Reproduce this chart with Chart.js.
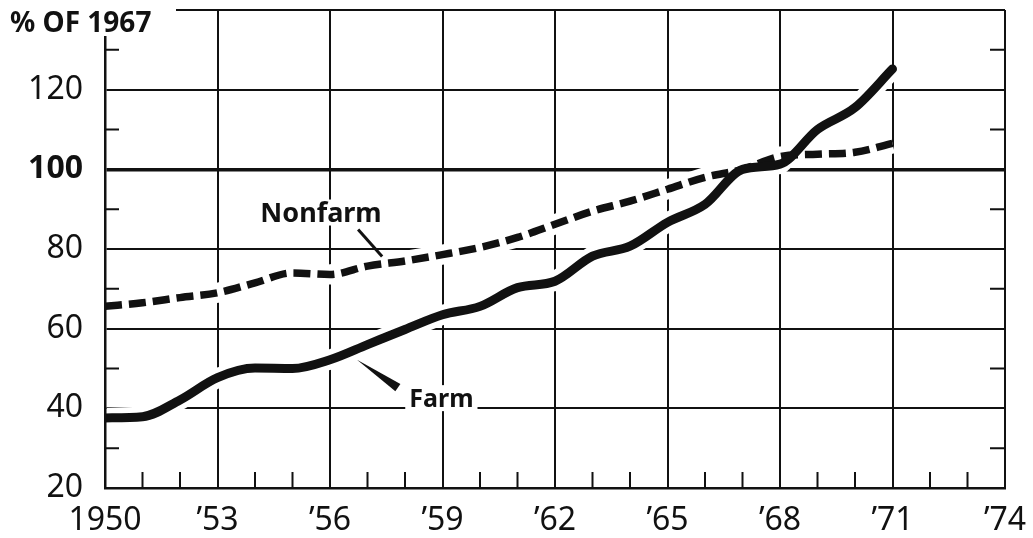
<!DOCTYPE html>
<html>
<head>
<meta charset="utf-8">
<script src="https://cdn.jsdelivr.net/npm/chart.js@4.4.1/dist/chart.umd.min.js"></script>
<style>
  html, body { margin: 0; padding: 0; background: #fff; }
  #box { width: 1033px; height: 538px; position: relative; }
</style>
</head>
<body>
<div id="box"><canvas id="grafico"></canvas></div>
<script>
// anos e indices (% de 1967)
var anos = [1950, 1951, 1952, 1953, 1954, 1955, 1956, 1957, 1958, 1959, 1960,
            1961, 1962, 1963, 1964, 1965, 1966, 1967, 1968, 1969, 1970, 1971];
var farm = [37.6, 37.9, 42.1, 47.7, 50.1, 50.0, 52.2, 56.0, 59.8, 63.5, 65.6,
            70.3, 71.9, 78.2, 80.7, 86.7, 91.2, 100.0, 101.3, 110.0, 115.5, 125.2];
var nonfarm = [65.6, 66.5, 67.8, 69.0, 71.5, 74.0, 73.6, 75.7, 77.0, 78.6, 80.4,
               82.9, 86.2, 89.5, 92.0, 95.0, 98.0, 100.0, 103.2, 103.8, 104.3, 106.5];

var anoTicks = [1950, 1953, 1956, 1959, 1962, 1965, 1968, 1971, 1974];
var valorTicks = [20, 40, 60, 80, 100, 120, 140];
var menoresY = [30, 50, 70, 90, 110, 130];

var tituloY = '% OF 1967';

var fonte = '"Noto Sans", "DejaVu Sans", sans-serif';

function pontos(serie) {
	return serie.map(function(v, i) { return { x: anos[i], y: v }; });
}

// faixa branca por baixo das linhas: a grade se interrompe perto delas
var faixaBranca = {
	id: 'faixaBranca',
	beforeDatasetsDraw: function(chart) {
		var ctx = chart.ctx, a = chart.chartArea;
		ctx.save();
		ctx.beginPath();
		ctx.rect(a.left + 2, a.top, a.right - a.left - 2, a.bottom - a.top - 2);
		ctx.clip();
		ctx.strokeStyle = '#fff';
		ctx.lineWidth = 20;
		ctx.lineJoin = 'round';
		[0, 1].forEach(function(i) {
			var pts = chart.getDatasetMeta(i).data;
			ctx.beginPath();
			pts.forEach(function(p, k) {
				if (k === 0) ctx.moveTo(p.x, p.y);
				else ctx.lineTo(p.x, p.y);
			});
			ctx.stroke();
		});
		ctx.restore();
	}
};

// risquinhos menores nas bordas
var marcasMenores = {
	id: 'marcasMenores',
	afterDatasetsDraw: function(chart) {
		var ctx = chart.ctx, a = chart.chartArea;
		var sx = chart.scales.x, sy = chart.scales.y;
		ctx.save();
		ctx.strokeStyle = '#111';
		ctx.lineWidth = 2;
		ctx.beginPath();
		menoresY.forEach(function(v) {
			var y = sy.getPixelForValue(v);
			ctx.moveTo(a.left, y); ctx.lineTo(a.left + 14, y);
			ctx.moveTo(a.right - 15, y); ctx.lineTo(a.right, y);
		});
		for (var ano = anoTicks[0]; ano <= anoTicks[anoTicks.length - 1]; ano++) {
			if (anoTicks.indexOf(ano) >= 0) continue;
			var x = sx.getPixelForValue(ano);
			ctx.moveTo(x, a.bottom); ctx.lineTo(x, a.bottom - 16);
		}
		ctx.stroke();
		ctx.restore();
	}
};

// rotulos das series e titulo do eixo
var rotulos = {
	id: 'rotulos',
	afterDatasetsDraw: function(chart) {
		var ctx = chart.ctx;
		var sx = chart.scales.x, sy = chart.scales.y;
		ctx.save();

		// canto do titulo fica sem grade
		ctx.fillStyle = '#fff';
		ctx.fillRect(0, 0, 176, 36);
		ctx.fillStyle = '#111';
		ctx.font = 'bold 28px ' + fonte;
		ctx.textAlign = 'left';
		ctx.textBaseline = 'alphabetic';
		ctx.fillText(tituloY, 10, 32);

		texto(ctx, 'Nonfarm', sx.getPixelForValue(1955.76), sy.getPixelForValue(86.9), 'bold 27px ' + fonte);
		texto(ctx, 'Farm', sx.getPixelForValue(1958.97), sy.getPixelForValue(40.3), 'bold 25px ' + fonte);

		// linha que liga Nonfarm
		ctx.strokeStyle = '#111';
		ctx.lineWidth = 3;
		ctx.beginPath();
		ctx.moveTo(sx.getPixelForValue(1956.75), sy.getPixelForValue(84.9));
		ctx.lineTo(sx.getPixelForValue(1957.39), sy.getPixelForValue(78.1));
		ctx.stroke();

		// cunha que liga Farm
		var x0 = sx.getPixelForValue(1956.72), y0 = sy.getPixelForValue(52.2);
		var x1 = sx.getPixelForValue(1957.81), y1 = sy.getPixelForValue(45.2);
		var dx = x1 - x0, dy = y1 - y0, len = Math.sqrt(dx * dx + dy * dy);
		var nx = -dy / len * 4.5, ny = dx / len * 4.5;
		ctx.beginPath();
		ctx.moveTo(x0, y0);
		ctx.lineTo(x1 + nx, y1 + ny);
		ctx.lineTo(x1 - nx, y1 - ny);
		ctx.closePath();
		ctx.fill();
		ctx.restore();
	}
};

function texto(ctx, t, x, y, f) {
	ctx.font = f;
	ctx.textAlign = 'center';
	ctx.textBaseline = 'alphabetic';
	var w = ctx.measureText(t).width;
	ctx.fillStyle = '#fff';
	ctx.fillRect(x - w / 2 - 4, y - 22, w + 8, 26);
	ctx.fillStyle = '#111';
	ctx.fillText(t, x, y);
}

var ctx = document.getElementById('grafico').getContext('2d');

new Chart(ctx, {
	type: 'line',
	data: {
		datasets: [{
			label: 'Farm',
			data: pontos(farm),
			borderColor: '#111',
			borderWidth: 9,
			borderCapStyle: 'round',
			borderJoinStyle: 'round',
			pointRadius: 0,
			cubicInterpolationMode: 'monotone',
			fill: false
		}, {
			label: 'Nonfarm',
			data: pontos(nonfarm),
			borderColor: '#111',
			borderWidth: 7.5,
			borderDash: [17, 7],
			pointRadius: 0,
			cubicInterpolationMode: 'monotone',
			fill: false
		}]
	},
	options: {
		responsive: true,
		maintainAspectRatio: false,
		animation: false,
		layout: { padding: { top: 10, right: 28, left: 0, bottom: 0 } },
		plugins: {
			legend: { display: false },
			tooltip: { enabled: false }
		},
		scales: {
			x: {
				type: 'linear',
				min: anoTicks[0],
				max: anoTicks[anoTicks.length - 1],
				afterBuildTicks: function(s) {
					s.ticks = anoTicks.map(function(v) { return { value: v }; });
				},
				afterFit: function(s) {
					s.height = 50;
					s.paddingLeft = 0;
					s.paddingRight = 0;
				},
				ticks: {
					maxRotation: 0,
					autoSkip: false,
					padding: 14,
					color: '#111',
					font: { family: fonte, size: 32 },
					callback: function(v) {
						return v === 1950 ? '1950' : '\u2019' + String(v).slice(2);
					}
				},
				grid: { color: '#111', lineWidth: 2, drawTicks: false },
				border: { display: true, color: '#111', width: 2.5 }
			},
			y: {
				min: valorTicks[0],
				max: valorTicks[valorTicks.length - 1],
				afterBuildTicks: function(s) {
					s.ticks = valorTicks.map(function(v) { return { value: v }; });
				},
				afterFit: function(s) {
					s.width = 105;
					s.paddingTop = 0;
					s.paddingBottom = 0;
				},
				ticks: {
					padding: 22,
					color: '#111',
					font: function(c) {
						return { family: fonte, size: 32, weight: c.tick && c.tick.value === 100 ? 'bold' : 'normal' };
					},
					callback: function(v) { return v === 140 ? '' : String(v); }
				},
				grid: {
					color: '#111',
					drawTicks: false,
					lineWidth: function(c) { return c.tick && c.tick.value === 100 ? 3.5 : 2; }
				},
				border: { display: true, color: '#111', width: 2.5 }
			}
		}
	},
	plugins: [faixaBranca, marcasMenores, rotulos]
});
</script>
</body>
</html>
